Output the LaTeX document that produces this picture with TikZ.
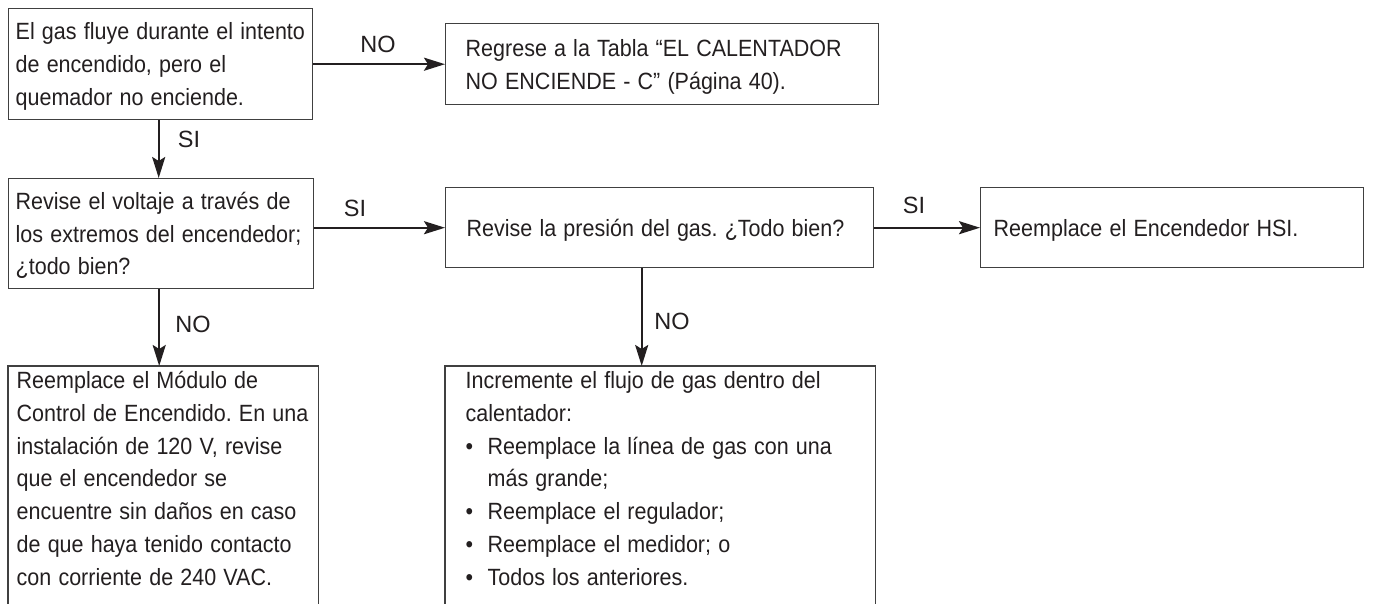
\documentclass[tikz,border=0pt]{standalone}
\usepackage{graphicx}
\usepackage{fontspec}
\setmainfont{Liberation Sans}
\usetikzlibrary{arrows.meta}
\definecolor{boxline}{HTML}{404040}
\definecolor{ink}{HTML}{231F20}
\newcommand{\hsq}[1]{\scalebox{0.915}[1]{#1}}
\newcommand{\bul}[1]{\hsq{\makebox[24pt][l]{•}#1}}
\frenchspacing
\begin{document}
\begin{tikzpicture}[x=1pt,y=-1pt,
  box/.style={draw=boxline, line width=1.4pt, anchor=north west, inner ysep=0pt,
    align=left, text=ink, font=\fontsize{23.5}{32.8}\selectfont, text height=16.8pt},
  openbox/.style={box, draw=none},
  bord/.style={draw=boxline, line width=1.4pt},
  lbl/.style={font=\fontsize{23.5}{28}\selectfont, inner sep=0pt, text=ink, anchor=center},
  arr/.style={line width=2.4pt, draw=ink, -{Stealth[length=21pt,width=13pt,inset=4pt]}}]
\useasboundingbox[fill=white] (0,0) rectangle (1388,603);
\coordinate (bot) at (0,620);

% boxes
\node[box, inner xsep=7pt, text width=290pt, minimum height=111pt, text depth=65.6pt] (b1) at (8,8)
  {\hsq{El gas fluye durante el intento}\\\hsq{de encendido, pero el}\\\hsq{quemador no enciende.}};
\node[box, inner xsep=20pt, text width=393pt, minimum height=81pt, text depth=32.8pt] (b2) at (445,23)
  {\hsq{Regrese a la Tabla “EL CALENTADOR}\\\hsq{NO ENCIENDE - C” (Página 40).}};
\node[box, inner xsep=7pt, text width=291pt, minimum height=110pt, text depth=65.6pt] (b3) at (8,178)
  {\hsq{Revise el voltaje a través de}\\\hsq{los extremos del encendedor;}\\\hsq{¿todo bien?}};
\node[box, inner xsep=21pt, text width=386pt, minimum height=80pt, text depth=0pt] (b4) at (445,187)
  {\hsq{Revise la presión del gas. ¿Todo bien?}};
\node[box, inner xsep=13pt, text width=357pt, minimum height=80pt, text depth=0pt] (b5) at (980,187)
  {\hsq{Reemplace el Encendedor HSI.}};
\node[openbox, inner xsep=8pt, text width=293pt, inner ysep=5pt, text depth=196.8pt] (b6) at (8,366)
  {\hsq{Reemplace el Módulo de}\\\hsq{Control de Encendido. En una}\\\hsq{instalación de 120 V, revise}\\\hsq{que el encendedor se}\\\hsq{encuentre sin daños en caso}\\\hsq{de que haya tenido contacto}\\\hsq{con corriente de 240 VAC.}};
\node[openbox, inner xsep=20pt, text width=389pt, inner ysep=5pt, text depth=196.8pt] (b7) at (445,366)
  {\hsq{Incremente el flujo de gas dentro del}\\\hsq{calentador:}\\
   \bul{Reemplace la línea de gas con una}\\
   \hspace*{22pt}\hsq{más grande;}\\
   \bul{Reemplace el regulador;}\\
   \bul{Reemplace el medidor; o}\\
   \bul{Todos los anteriores.}};
\draw[bord] (b6.north west |- bot) -- (b6.north west) -- (b6.north east) -- (b6.north east |- bot);
\draw[bord] (b7.north west |- bot) -- (b7.north west) -- (b7.north east) -- (b7.north east |- bot);

% connectors
\draw[arr] (b1.east) -- (b1.east -| b2.west);
\draw[arr] ([xshift=-2pt]b1.south) -- ([xshift=-2pt]b1.south |- b3.north);
\draw[arr] (b3.east |- b4.west) -- (b4.west);
\draw[arr] (b4.east) -- (b5.west);
\draw[arr] ([xshift=-2pt]b3.south) -- ([xshift=-2pt]b3.south |- b6.north);
\draw[arr] ([xshift=-18pt]b4.south) -- ([xshift=-18pt]b4.south |- b7.north);

% labels
\node[lbl] (l1) at (378,44) {NO};
\node[lbl] (l2) at (189,139) {SI};
\node[lbl] (l3) at (355,208) {SI};
\node[lbl] (l4) at (914,205) {SI};
\node[lbl] (l5) at (193,324) {NO};
\node[lbl] (l6) at (672,321) {NO};
\end{tikzpicture}
\end{document}
